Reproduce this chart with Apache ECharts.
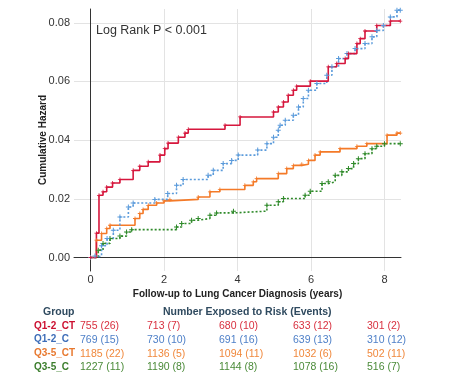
<!DOCTYPE html>
<html>
<head>
<meta charset="utf-8">
<script src="https://cdn.jsdelivr.net/npm/echarts@6/dist/echarts.min.js"></script>
<style>
  html, body { margin: 0; padding: 0; background: #fff; }
  #chart { width: 462px; height: 377px; }
</style>
</head>
<body>
<div id="chart"></div>
<script>
// step points: [years, cumulative hazard] - value holds from t onward
var q12ct = [
    [0, 0], [0.16, 0.0083], [0.23, 0.0212], [0.34, 0.0224], [0.44, 0.024],
    [0.6, 0.0254], [0.8, 0.0266], [1.16, 0.0297], [1.34, 0.0311], [1.57, 0.0326],
    [1.89, 0.0349], [2.02, 0.0371], [2.11, 0.039], [2.39, 0.041], [2.57, 0.0424],
    [2.66, 0.0437], [3.66, 0.0451], [4.07, 0.0479], [4.98, 0.0496], [5.11, 0.0513],
    [5.25, 0.053], [5.38, 0.0553], [5.52, 0.057], [5.61, 0.0584], [5.98, 0.0601],
    [6.47, 0.065], [6.7, 0.0661], [6.93, 0.0678], [7.02, 0.0695], [7.25, 0.0729],
    [7.34, 0.0746], [7.47, 0.0772], [7.79, 0.0791], [8.16, 0.0806], [8.43, 0.0806]
];
var q12c = [
    [0, 0], [0.12, 0.0005], [0.3, 0.004], [0.45, 0.0065], [0.62, 0.0093],
    [0.8, 0.0138], [1.03, 0.0172], [1.16, 0.0186], [1.75, 0.0198], [2.1, 0.0218],
    [2.34, 0.0246], [2.52, 0.0266], [3.2, 0.028], [3.34, 0.0297], [3.61, 0.032],
    [3.84, 0.0331], [4.02, 0.0349], [4.55, 0.0366], [4.8, 0.0388], [4.98, 0.041],
    [5.11, 0.0434], [5.16, 0.0451], [5.3, 0.0468], [5.52, 0.0485], [5.66, 0.0513],
    [5.79, 0.0542], [5.93, 0.057], [6.16, 0.0593], [6.43, 0.0621], [6.57, 0.065],
    [6.75, 0.0678], [6.98, 0.0695], [7.2, 0.0712], [7.47, 0.0729], [7.66, 0.0752],
    [7.79, 0.0774], [7.97, 0.0791], [8.16, 0.082], [8.34, 0.0843], [8.43, 0.0843]
];
var q35ct = [
    [0, 0], [0.16, 0.0059], [0.3, 0.0082], [0.44, 0.0099], [0.53, 0.011],
    [1.21, 0.0133], [1.34, 0.015], [1.43, 0.0164], [1.57, 0.0178], [1.8, 0.0186],
    [2.0, 0.0193], [2.16, 0.0198], [2.93, 0.0206], [3.25, 0.0224], [3.52, 0.0232],
    [4.2, 0.0246], [4.43, 0.0258], [4.52, 0.0269], [5.11, 0.0286], [5.34, 0.0303],
    [5.52, 0.0314], [5.75, 0.0318], [5.93, 0.0331], [6.11, 0.0349], [6.25, 0.036],
    [6.79, 0.0371], [7.25, 0.0379], [7.52, 0.0388], [8.07, 0.0417], [8.34, 0.0424],
    [8.43, 0.0424]
];
var q35c = [
    [0, 0], [0.21, 0.0025], [0.34, 0.0048], [0.53, 0.0065], [0.8, 0.0073],
    [0.98, 0.0087], [1.12, 0.0095], [2.34, 0.0104], [2.48, 0.0116], [2.75, 0.0127],
    [2.93, 0.0133], [3.25, 0.0144], [3.43, 0.0152], [3.89, 0.0158], [4.8, 0.0178],
    [5.11, 0.019], [5.25, 0.0201], [5.84, 0.0212], [5.98, 0.0226], [6.3, 0.0252],
    [6.47, 0.0258], [6.66, 0.028], [6.84, 0.0292], [7.02, 0.0303], [7.16, 0.032],
    [7.29, 0.0337], [7.47, 0.0354], [7.66, 0.0371], [7.79, 0.0379], [8.0, 0.0388],
    [8.43, 0.0388]
];

var groups = ["Q1-2_CT", "Q1-2_C", "Q3-5_CT", "Q3-5_C"];
var atRisk = [
    ["755 (26)", "713 (7)", "680 (10)", "633 (12)", "301 (2)"],
    ["769 (15)", "730 (10)", "691 (16)", "639 (13)", "310 (12)"],
    ["1185 (22)", "1136 (5)", "1094 (11)", "1032 (6)", "502 (11)"],
    ["1227 (11)", "1190 (8)", "1144 (8)", "1078 (16)", "516 (7)"]
];
var lineColors = ["#d6173d", "#5b9bdb", "#f47a28", "#2f8a2a"];
var labelColors = ["#cc1030", "#3d6db8", "#e8782e", "#3b7d2c"];
var numColors = ["#d8303f", "#4f80c8", "#f0883c", "#4a8a38"];

var cross = "path://M4,0h2v10h-2zM0,4h10v2h-10z";

function kmSeries(name, data, color, dashed) {
    return {
        name: name,
        type: "line",
        step: "end",
        data: data,
        symbol: cross,
        symbolSize: dashed ? 5 : 4,
        showAllSymbol: true,
        itemStyle: { color: color },
        lineStyle: { color: color, width: 1.6, type: dashed ? [2, 2] : "solid" },
        animation: false
    };
}

var chart = echarts.init(document.getElementById("chart"));

var graphics = [{
    type: "text", left: 96, top: 24,
    style: { text: "Log Rank P < 0.001", fontSize: 12.5, fill: "#333", fontFamily: "Liberation Sans" }
}, {
    type: "text", left: 43, top: 307,
    style: { text: "Group", fontSize: 10.5, fontWeight: "bold", fill: "#2f4a5f", fontFamily: "Liberation Sans" }
}, {
    type: "text", left: 163, top: 307,
    style: { text: "Number Exposed to Risk (Events)", fontSize: 10.5, fontWeight: "bold", fill: "#2f4a5f", fontFamily: "Liberation Sans" }
}];

var colX = [80, 147, 219, 293, 367];
for (var i = 0; i < groups.length; i++) {
    var y = 321 + i * 13.6;
    graphics.push({
        type: "text", left: 34, top: y,
        style: { text: groups[i], fontSize: 10, fontWeight: "bold", fill: labelColors[i], fontFamily: "Liberation Sans" }
    });
    for (var j = 0; j < atRisk[i].length; j++) {
        graphics.push({
            type: "text", left: colX[j], top: y,
            style: { text: atRisk[i][j], fontSize: 10.5, fill: numColors[i], fontFamily: "Liberation Sans" }
        });
    }
}

option = {
    backgroundColor: "#fff",
    animation: false,
    grid: { left: 74, right: 61, top: 9, bottom: 106 },
    xAxis: {
        type: "value",
        min: -0.45,
        max: 8.45,
        splitNumber: 4,
        name: "Follow-up to Lung Cancer Diagnosis (years)",
        nameLocation: "middle",
        nameGap: 18,
        nameMoveOverlap: false,
        nameTextStyle: { fontSize: 10, fontWeight: "bold", color: "#222", fontFamily: "Liberation Sans" },
        axisLine: { show: true, lineStyle: { color: "#333", width: 1 } },
        axisTick: { show: false },
        axisLabel: {
            showMinLabel: false, showMaxLabel: false,
            fontSize: 11, color: "#333", margin: 3, fontFamily: "Liberation Sans",
            formatter: function(v) { return String(v); }
        },
        splitLine: { show: true, showMinLine: false, showMaxLine: false, lineStyle: { color: "#e3e3e3", width: 1 } }
    },
    yAxis: {
        type: "value",
        min: -0.0046,
        max: 0.0847,
        splitNumber: 4,
        name: "Cumulative Hazard",
        nameLocation: "middle",
        nameGap: 26,
        nameMoveOverlap: false,
        nameTextStyle: { fontSize: 10, fontWeight: "bold", color: "#222", fontFamily: "Liberation Sans" },
        axisLine: { show: true, lineStyle: { color: "#333", width: 1 } },
        axisTick: { show: false },
        axisLabel: {
            showMinLabel: false, showMaxLabel: false,
            fontSize: 11, color: "#333", margin: 4, fontFamily: "Liberation Sans",
            formatter: function(v) { return v.toFixed(2); }
        },
        splitLine: { show: true, showMinLine: false, showMaxLine: false, lineStyle: { color: "#e3e3e3", width: 1 } }
    },
    series: [
        kmSeries(groups[3], q35c, lineColors[3], true),
        kmSeries(groups[2], q35ct, lineColors[2], false),
        kmSeries(groups[1], q12c, lineColors[1], true),
        kmSeries(groups[0], q12ct, lineColors[0], false)
    ],
    graphic: graphics
};
chart.setOption(option);
</script>
</body>
</html>
